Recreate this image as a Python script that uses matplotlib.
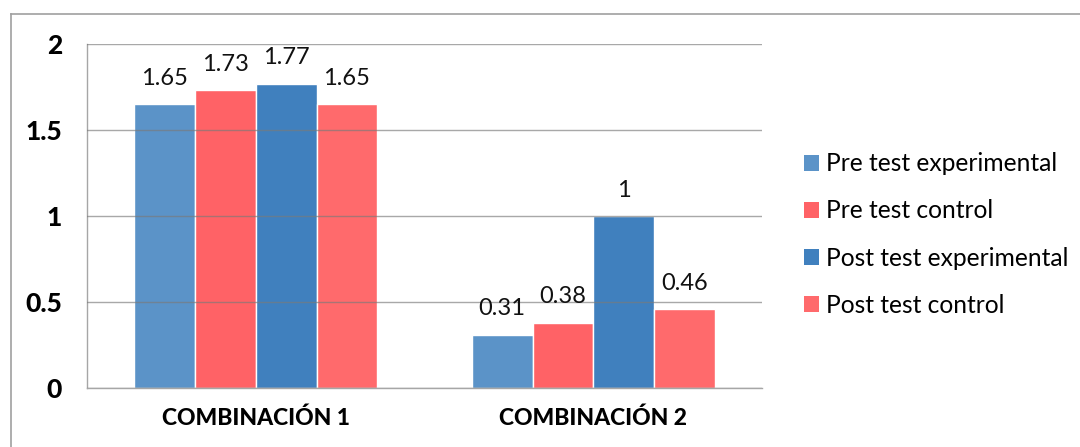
import matplotlib.pyplot as plt
from matplotlib.patches import Patch
from matplotlib.lines import Line2D
import numpy as np

# grouped bar data
categories = ["COMBINACIÓN 1", "COMBINACIÓN 2"]
series = ["Pre test experimental", "Pre test control",
          "Post test experimental", "Post test control"]
pre_exp = [1.65, 0.31]
pre_ctrl = [1.73, 0.38]
post_exp = [1.77, 1.00]
post_ctrl = [1.65, 0.46]
values = [pre_exp, pre_ctrl, post_exp, post_ctrl]
colors = ["#5B93C8", "#FF6266", "#4080BE", "#FF6A6C"]

plt.rcParams["font.family"] = ["Lato", "DejaVu Sans"]

fig = plt.figure(figsize=(10.8, 4.47), dpi=100)
ax = fig.add_axes([0.0806, 0.132, 0.625, 0.7696])

x = np.arange(len(categories))
width = 0.18
for i, (vals, col) in enumerate(zip(values, colors)):
    pos = x + (i - 1.5) * width
    bars = ax.bar(pos, vals, width, color=col, edgecolor="white",
                  linewidth=1, zorder=2, label=series[i])
    for b, v in zip(bars, vals):
        ax.annotate(f"{v:g}", (b.get_x() + b.get_width() / 2, v),
                    xytext=(0, 11), textcoords="offset points",
                    ha="center", va="bottom", fontsize=17, color="#111111")

ax.set_xlim(-0.5, 1.5)
ax.set_ylim(0, 2)
ax.set_yticks([0, 0.5, 1, 1.5, 2])
ax.set_yticklabels(["0", "0.5", "1", "1.5", "2"], fontsize=19, fontweight="black")
ax.set_xticks(x)
ax.set_xticklabels(categories, fontsize=16.5, fontweight="black")
ax.tick_params(axis="both", length=0)
ax.tick_params(axis="y", pad=18)
ax.tick_params(axis="x", pad=14)

ax.yaxis.grid(True, color="#7a7a7a", linewidth=1, alpha=0.65, zorder=3)
ax.set_axisbelow(False)
for s in ["top", "right"]:
    ax.spines[s].set_visible(False)
for s in ["left", "bottom"]:
    ax.spines[s].set_color("#A6A6A6")
    ax.spines[s].set_linewidth(1)

# outer chart border
fig.add_artist(Line2D([11 / 1080, 1], [1 - 14 / 447, 1 - 14 / 447],
                      color="#A0A0A0", linewidth=1.2))
fig.add_artist(Line2D([11 / 1080, 11 / 1080], [0, 1 - 14 / 447],
                      color="#A0A0A0", linewidth=1.2))

handles = [Patch(facecolor=c, edgecolor="none") for c in colors]
fig.legend(handles, series, loc="center left",
           bbox_to_anchor=(804 / 1080, 1 - 234.5 / 447),
           frameon=False, fontsize=17.7, borderpad=0, borderaxespad=0,
           handlelength=0.6, handleheight=0.6, handletextpad=0.3,
           labelspacing=0.98)

fig.savefig("out.png", dpi=100)
